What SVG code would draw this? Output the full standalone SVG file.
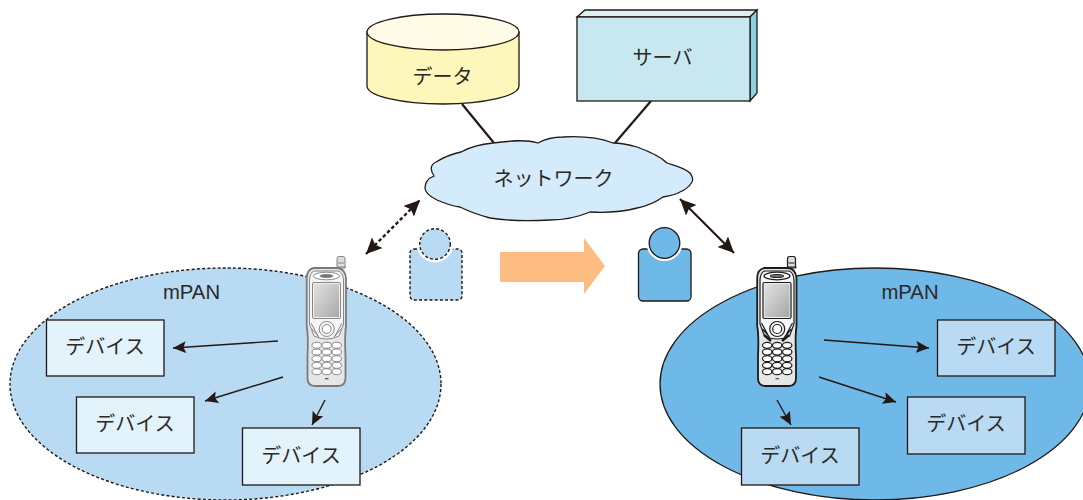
<svg xmlns="http://www.w3.org/2000/svg" xmlns:xlink="http://www.w3.org/1999/xlink" width="1083" height="500" viewBox="0 0 1083 500">
<style>
text{font-family:"Noto Sans CJK JP","Noto Sans",sans-serif;font-size:20px;fill:#2b2826;text-anchor:middle}
.en{font-family:"Liberation Sans",sans-serif;font-size:20.300px}
.ol{stroke:#231815;stroke-width:1.300}
.dev1{fill:#e3f3fb;stroke:#231815;stroke-width:1.300}
.dev2{fill:#b8daf3;stroke:#231815;stroke-width:1.300}
.link{stroke:#231815;stroke-width:2.200;fill:none}
.thin{stroke:#231815;stroke-width:1.400;fill:none;marker-end:url(#ah)}
.dash{stroke:#231815;stroke-width:1.400;stroke-dasharray:3 2.200}
.ph1{stroke:#7a7a7a;stroke-width:.9}
.ph2{stroke:#1c1c1c;stroke-width:1.200}
</style>
<defs>
<marker id="ah" markerUnits="userSpaceOnUse" markerWidth="14" markerHeight="12" refX="13" refY="6" orient="auto"><path d="M0 0L13 6L0 12L2.500 6Z" fill="#231815"/></marker>
<marker id="ahs" markerUnits="userSpaceOnUse" markerWidth="17" markerHeight="15" refX="16" refY="7.500" orient="auto-start-reverse"><path d="M0 0L16 7.500L0 15L3 7.500Z" fill="#231815"/></marker>
<linearGradient id="scr" x1="0" y1="0" x2="1" y2="1"><stop offset="0" stop-color="#e2e2e2"/><stop offset="1" stop-color="#a8a8a8"/></linearGradient>
<symbol id="phone" width="42" height="132" viewBox="0 0 42 132" overflow="visible">
<path d="M31 12V3Q31 .5 33 .5H37Q39 .5 39 3V12Z" fill="#ddd"/>
<path d="M32 7H38M31 11H40" fill="none"/>
<path d="M8 12H32Q39 13 40 22V70Q38.500 80 39.500 100V122Q39.500 130 32 130H9Q1.500 130 1.500 122V100Q2.500 80 .7 70V22Q1 13 8 12Z" fill="#e6e6e6" stroke-width="1.800"/>
<path d="M8.500 15H32Q37 16 37.500 24V68L33 80Q20.700 86 8 80L3.500 68V24Q4 16 8.500 15Z" fill="#f6f6f6"/>
<ellipse cx="20.500" cy="20" rx="13" ry="3.800" fill="#fff"/>
<ellipse cx="20.500" cy="20" rx="6.500" ry="1.500" fill="#777"/>
<rect x="6.500" y="26.500" width="28" height="36" rx="1.500" fill="#f0f0f0"/>
<rect x="8" y="28" width="25" height="33" fill="url(#scr)" stroke="none"/>
<path d="M5 67L12 80M36 67L29 80M6 73L13 81M35 73L28 81" fill="none"/>
<circle cx="20.700" cy="73" r="7.500" fill="#f6f6f6"/><circle cx="20.700" cy="73" r="4.500" fill="#fff"/>
<g fill="#fff">
<ellipse cx="10.700" cy="89.300" rx="4.700" ry="3"/><ellipse cx="20.700" cy="89.300" rx="4.700" ry="3"/><ellipse cx="30.700" cy="89.300" rx="4.700" ry="3"/>
<ellipse cx="10.700" cy="96" rx="4.700" ry="3"/><ellipse cx="20.700" cy="96" rx="4.700" ry="3"/><ellipse cx="30.700" cy="96" rx="4.700" ry="3"/>
<ellipse cx="10.700" cy="102.700" rx="4.700" ry="3"/><ellipse cx="20.700" cy="102.700" rx="4.700" ry="3"/><ellipse cx="30.700" cy="102.700" rx="4.700" ry="3"/>
<ellipse cx="10.700" cy="109.300" rx="4.700" ry="3"/><ellipse cx="20.700" cy="109.300" rx="4.700" ry="3"/><ellipse cx="30.700" cy="109.300" rx="4.700" ry="3"/>
<ellipse cx="10.700" cy="115.700" rx="4.700" ry="3"/><ellipse cx="20.700" cy="115.700" rx="4.700" ry="3"/><ellipse cx="30.700" cy="115.700" rx="4.700" ry="3"/>
</g>
<rect x="19" y="122" width="3.500" height="1.300" fill="#555" stroke="none"/>
</symbol>
</defs>

<g id="pan-left"><ellipse cx="225.500" cy="384" rx="215.500" ry="116" fill="#b8daf3" class="dash"/><text class="en" x="191.500" y="299">mPAN</text></g>
<g id="pan-right"><ellipse cx="875" cy="384" rx="215" ry="116" fill="#6fb9e8" class="ol"/><text class="en" x="910" y="299">mPAN</text></g>

<g id="connectors">
<path class="link" d="M462 104L494 143"/>
<path class="link" d="M651 101L615 143"/>
<path d="M366 254L420 200" stroke="#231815" stroke-width="2.400" stroke-dasharray="3.500 2.500" marker-start="url(#ahs)" marker-end="url(#ahs)"/>
<path d="M680 199L734 253" stroke="#231815" stroke-width="2.200" marker-start="url(#ahs)" marker-end="url(#ahs)"/>
<path class="thin" d="M278 341L173 348"/>
<path class="thin" d="M283 377L205 401"/>
<path class="thin" d="M325 400L312 425"/>
<path class="thin" d="M824 340L929 348"/>
<path class="thin" d="M819 377L896 402"/>
<path class="thin" d="M777 400L791 425"/>
</g>

<g id="data">
<path d="M367 32V86A76 18 0 0 0 519 86V32Z" fill="#fdf7bc" class="ol"/>
<ellipse cx="443" cy="32" rx="76" ry="18" fill="#fefbe6" class="ol"/>
<text x="442.500" y="84">データ</text>
</g>

<g id="server">
<path d="M577 17L585 10H757L750 17Z" fill="#dcf0f4" class="ol"/>
<path d="M750 17L757 10V93L750 101Z" fill="#8bd2e0" class="ol"/>
<rect x="577" y="17" width="173" height="84" fill="#c7e8f0" class="ol"/>
<text x="662.500" y="65">サーバ</text>
</g>

<g id="network">
<path d="M425 188C425 182 429 178 434 176C430 170 430 165 436 162C444 157 452 154 461 152C470 147 482 144 493 143C508 141 525 139 538 143C545 139 555 137 563 137C582 136 600 138 613 143C622 143 630 145 637 147C648 151 660 156 667 163C676 166 685 168 690 173C693 177 693 180 692 182C689 187 685 190 680 192C675 195 669 196 663 197C656 202 647 206 637 208C622 212 606 213 590 212C578 217 565 220 550 220C530 221 508 221 490 218C479 215 468 211 460 207C451 206 444 203 437 200C431 197 425 193 425 188Z" fill="#d3ebfa" class="ol"/>
<text x="553.500" y="186">ネットワーク</text>
</g>

<g id="user-left">
<rect x="410" y="249" width="52" height="51" rx="4" fill="#b8daf3" class="dash"/>
<circle cx="435" cy="244" r="18.500" fill="#fff"/>
<circle cx="435" cy="244" r="15.300" fill="#b8daf3" class="dash"/>
</g>

<g id="transition-arrow"><path d="M500 252H584V238L605 266L584 294V282H500Z" fill="#fcbc82"/></g>

<g id="user-right">
<rect x="638.500" y="249" width="52.500" height="52" rx="4.500" fill="#6fb9e8" class="ol"/>
<circle cx="664.500" cy="243" r="18" fill="#fff"/>
<circle cx="664.500" cy="243" r="15.300" fill="#6fb9e8" class="ol"/>
</g>

<g id="phone-left" class="ph1"><use href="#phone" x="306" y="256" width="42" height="132"/></g>
<g id="phone-right" class="ph2"><use href="#phone" x="756.500" y="256" width="42" height="132"/>
<path d="M764 335L771 341M789 335L782 341" stroke="#1c1c1c" stroke-width="2.500" fill="none"/></g>

<g id="device-l1"><rect class="dev1" x="46.500" y="320" width="117.500" height="56"/><text x="105" y="354">デバイス</text></g>
<g id="device-l2"><rect class="dev1" x="76.500" y="397" width="117.500" height="56"/><text x="135" y="431">デバイス</text></g>
<g id="device-l3"><rect class="dev1" x="242.500" y="428" width="117.500" height="57"/><text x="301" y="463">デバイス</text></g>
<g id="device-r1"><rect class="dev2" x="937.500" y="320" width="117.500" height="56"/><text x="996" y="354">デバイス</text></g>
<g id="device-r2"><rect class="dev2" x="907.500" y="397" width="117.500" height="57"/><text x="966" y="431">デバイス</text></g>
<g id="device-r3"><rect class="dev2" x="741.500" y="428" width="117.500" height="57"/><text x="800" y="463">デバイス</text></g>
</svg>
